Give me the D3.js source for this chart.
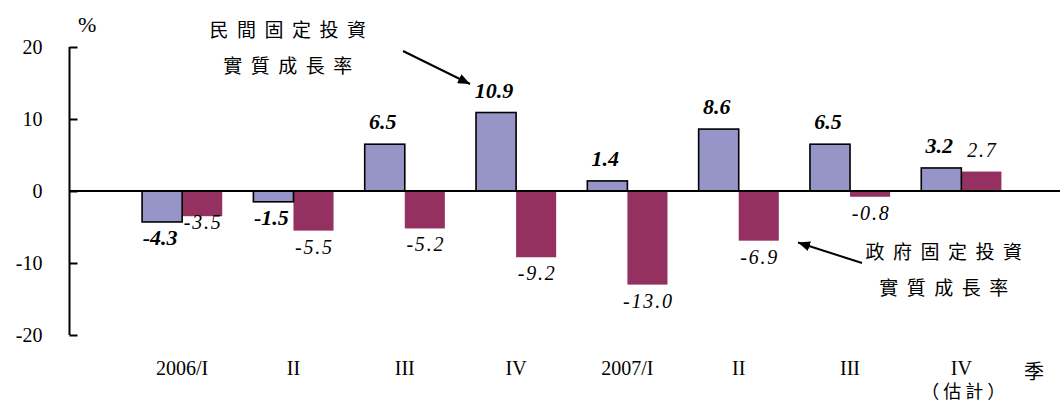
<!DOCTYPE html>
<html>
<head>
<meta charset="utf-8">
<script src="https://cdn.jsdelivr.net/npm/d3@7"></script>
<style>
  html, body { margin: 0; padding: 0; background: #fff; }
  svg { display: block; }
</style>
</head>
<body>
<svg id="chart" width="1060" height="405"></svg>
<script>
// ---- data ----
const categories = ["2006/I", "II", "III", "IV", "2007/I", "II", "III", "IV"];
const categoryNotes = ["", "", "", "", "", "", "", "（估計）"];
const privateGrowth = [-4.3, -1.5, 6.5, 10.9, 1.4, 8.6, 6.5, 3.2];
const governmentGrowth = [-3.5, -5.5, -5.2, -9.2, -13.0, -6.9, -0.8, 2.7];
const yTicks = [-20, -10, 0, 10, 20];
const seriesNames = ["private", "government"];
const privateLabelLines = ["民間固定投資", "實質成長率"];
const governmentLabelLines = ["政府固定投資", "實質成長率"];
const unitLabel = "%";
const axisTitle = "季";

// ---- drawing ----
const svg = d3.select("#chart");
const serif = "Liberation Serif, Times New Roman, serif";
const cjk = "Noto Sans CJK TC, Noto Sans CJK SC, sans-serif";
const blue = "#9795c7";
const maroon = "#943160";
const fmt1 = v => v.toFixed(1);

const y = d3.scaleLinear().domain([-20, 20]).range([335, 47]);
const x = d3.scaleBand()
  .domain(d3.range(categories.length))
  .range([126.5, 1017])
  .paddingInner(0.28)
  .paddingOuter(0.14);
const xSub = d3.scaleBand().domain(seriesNames).range([0, x.bandwidth()]);

const rows = categories.map((c, i) => ({
  i, cat: c, note: categoryNotes[i],
  private: privateGrowth[i], government: governmentGrowth[i]
}));

// arrow marker
const defs = svg.append("defs");
defs.append("marker")
  .attr("id", "arrow")
  .attr("viewBox", "0 0 12 10")
  .attr("refX", 12).attr("refY", 5)
  .attr("markerWidth", 12).attr("markerHeight", 10)
  .attr("markerUnits", "userSpaceOnUse")
  .attr("orient", "auto")
  .append("path").attr("d", "M0,0 L12,5 L0,10 Z").attr("fill", "#000");

// bars
const g = svg.append("g");
function barY(v) { return Math.min(y(v), y(0)); }
function barH(v) { return Math.abs(y(v) - y(0)); }

g.selectAll("rect.gov").data(rows).join("rect")
  .attr("class", "gov")
  .attr("x", d => x(d.i) + xSub("government"))
  .attr("y", d => barY(d.government))
  .attr("width", xSub.bandwidth())
  .attr("height", d => barH(d.government))
  .attr("fill", maroon);

g.selectAll("rect.priv").data(rows).join("rect")
  .attr("class", "priv")
  .attr("x", d => x(d.i) + xSub("private"))
  .attr("y", d => barY(d.private))
  .attr("width", xSub.bandwidth())
  .attr("height", d => barH(d.private))
  .attr("fill", blue)
  .attr("stroke", "#000")
  .attr("stroke-width", 1.6);

// zero line
svg.append("line")
  .attr("x1", 69.5).attr("x2", 1060)
  .attr("y1", y(0)).attr("y2", y(0))
  .attr("stroke", "#000").attr("stroke-width", 2);

// y axis
const yAxis = d3.axisRight(y).tickValues(yTicks).tickSize(8).tickFormat(d => String(d));
const ya = svg.append("g").attr("transform", "translate(69.5,0)").call(yAxis)
  .attr("font-family", serif).attr("font-size", 20);
ya.select(".domain").attr("stroke", "#000").attr("stroke-width", 2).attr("d", `M0,${y(20)}V${y(-20)}`);
ya.selectAll(".tick line").attr("stroke", "#000").attr("stroke-width", 2);
ya.selectAll(".tick text")
  .attr("x", -27).attr("dy", "0.33em")
  .attr("text-anchor", "end")
  .attr("font-family", serif).attr("font-size", 20).attr("fill", "#000");

// value labels
function labelY(v) { return v >= 0 ? y(v) - 15 : y(v) + 23; }
function govLabelY(d) {
  const ly = labelY(d.government);
  // lift the label when it would sit beside the neighbouring private label
  if (d.government < 0 && d.private < 0 && Math.abs(ly - labelY(d.private)) < 12) return y(d.government) + 13;
  return ly;
}
g.selectAll("text.plab").data(rows).join("text")
  .attr("class", "plab")
  .attr("x", d => x(d.i) + xSub("private") + xSub.bandwidth() / 2 - 2)
  .attr("y", d => labelY(d.private))
  .attr("text-anchor", "middle")
  .attr("font-family", serif).attr("font-size", 22)
  .attr("font-weight", "bold").attr("font-style", "italic")
  .text(d => fmt1(d.private));

g.selectAll("text.glab").data(rows).join("text")
  .attr("class", "glab")
  .attr("x", d => x(d.i) + xSub("government") + xSub.bandwidth() / 2 + 1)
  .attr("y", d => govLabelY(d))
  .attr("text-anchor", "middle")
  .attr("font-family", serif).attr("font-size", 20)
  .attr("font-style", "italic").attr("letter-spacing", 1.8)
  .text(d => fmt1(d.government));

// category labels
g.selectAll("text.cat").data(rows).join("text")
  .attr("class", "cat")
  .attr("x", d => x(d.i) + x.bandwidth() / 2)
  .attr("y", 375)
  .attr("text-anchor", "middle")
  .attr("font-family", serif).attr("font-size", 20)
  .text(d => d.cat);

g.selectAll("text.note").data(rows.filter(d => d.note)).join("text")
  .attr("class", "note")
  .attr("x", d => x(d.i) + x.bandwidth() / 2 + 4)
  .attr("y", 398)
  .attr("text-anchor", "middle")
  .attr("font-family", cjk).attr("font-size", 18)
  .attr("letter-spacing", 4)
  .text(d => d.note);

svg.append("text").attr("x", 1034).attr("y", 379).attr("text-anchor", "middle")
  .attr("font-family", cjk).attr("font-size", 20).text(axisTitle);

svg.append("text").attr("x", 78).attr("y", 32)
  .attr("font-family", serif).attr("font-size", 22).text(unitLabel);

// annotations
function multiLine(lines, cx, baselines) {
  lines.forEach((t, k) => {
    svg.append("text")
      .attr("x", cx + 4).attr("y", baselines[k])
      .attr("text-anchor", "middle")
      .attr("font-family", cjk).attr("font-size", 19)
      .attr("letter-spacing", 8.5)
      .text(t);
  });
}
multiLine(privateLabelLines, 288, [37, 73]);
multiLine(governmentLabelLines, 944, [259, 295]);

svg.append("line").attr("x1", 403).attr("y1", 51).attr("x2", 470).attr("y2", 84)
  .attr("stroke", "#000").attr("stroke-width", 2).attr("marker-end", "url(#arrow)");
svg.append("line").attr("x1", 862).attr("y1", 263).attr("x2", 798).attr("y2", 242.5)
  .attr("stroke", "#000").attr("stroke-width", 2).attr("marker-end", "url(#arrow)");
</script>
</body>
</html>
